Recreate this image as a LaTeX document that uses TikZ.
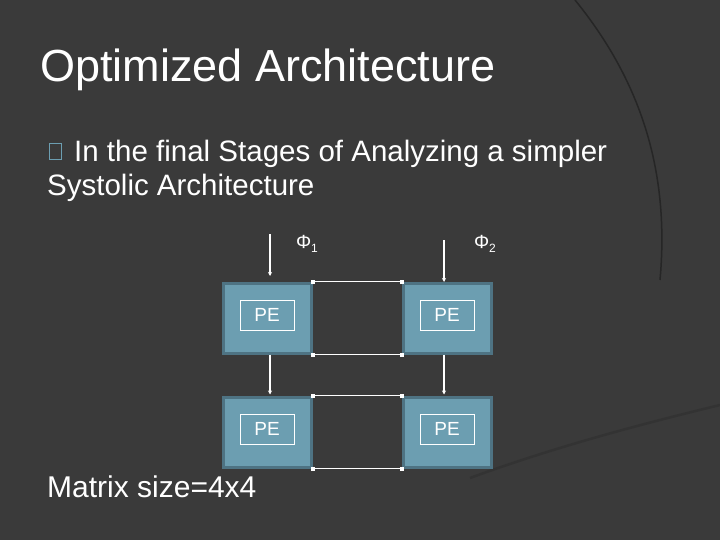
\documentclass[tikz,border=0pt]{standalone}
\usepackage{fontspec}
\setmainfont{Liberation Sans}
\usetikzlibrary{calc,arrows.meta}
\begin{document}
\begin{tikzpicture}[x=1pt,y=-1pt,
  pe/.style={draw=pebd,line width=3pt,fill=pefill,minimum width=88pt,minimum height=70pt},
  inner/.style={draw=white,line width=0.8pt,minimum width=54pt,minimum height=30pt,text=white,font=\fontsize{19}{19}\selectfont,inner sep=0pt},
  wire/.style={draw=white,line width=1.6pt},
  arr/.style={wire,-{Stealth[length=4pt,width=4pt]}},
  dot/.style={rectangle,fill=white,inner sep=0pt,minimum size=4pt}]
\definecolor{bg}{HTML}{3A3A3A}
\definecolor{pefill}{HTML}{6C9EB1}
\definecolor{pebd}{HTML}{4E7383}
\useasboundingbox (0,0) rectangle (720,540);
\fill[bg] (0,0) rectangle (720,540);
\draw[black!85,line width=1.5pt] (575,0) .. controls (640,80) and (670,170) .. (660,280);
\draw[black!80,line width=2.5pt] (470,478) .. controls (560,445) and (650,422) .. (720,405);
\node[anchor=base west,text=white,font=\fontsize{45}{45}\selectfont,inner sep=0pt] (title) at (40,82) {Optimized Architecture};
\node[draw=pefill,line width=0.8pt,minimum width=12pt,minimum height=16pt,inner sep=0pt] (bul) at (55,151) {};
\node[anchor=base west,text=white,font=\fontsize{29.5}{34}\selectfont,inner sep=0pt,align=left] (b1) at (74,162) {In the final Stages of Analyzing a simpler};
\node[anchor=base west,text=white,font=\fontsize{29.5}{34}\selectfont,inner sep=0pt] (b2) at (47,196) {Systolic Architecture};
\node[pe] (p11) at (267,318) {};
\node[pe] (p12) at (447,318) {};
\node[pe] (p21) at (267,432) {};
\node[pe] (p22) at (447,432) {};
\foreach \p in {p11,p12,p21,p22}{\node[inner] (i\p) at ($(\p.center)+(0,-3)$) {PE\hspace{22pt}};}
\coordinate (a1) at (270,234); \coordinate (a2) at (444,240);
\draw[arr] (a1) -- (270,276);
\draw[arr] (a2) -- (444,282);
\draw[arr] (p11.south -| a1) -- ($(p21.north -| a1)+(0,-1)$);
\draw[arr] (p12.south -| a2) -- ($(p22.north -| a2)+(0,-1)$);
\foreach \r/\s in {p11/p12,p21/p22}{
 \draw[wire] (\r.north east) node[dot]{} -- (\s.north west) node[dot]{};
 \draw[wire] (\r.south east) node[dot]{} -- (\s.south west) node[dot]{};}
\node[text=white,font=\fontsize{19}{19}\selectfont] (f1) at (307,244) {Φ\raisebox{-4pt}{\fontsize{12}{12}\selectfont 1}};
\node[text=white,font=\fontsize{19}{19}\selectfont] (f2) at (485,244) {Φ\raisebox{-4pt}{\fontsize{12}{12}\selectfont 2}};
\node[anchor=base west,text=white,font=\fontsize{30}{30}\selectfont,inner sep=0pt] (ms) at (47,497) {Matrix size=4x4};
\end{tikzpicture}
\end{document}
